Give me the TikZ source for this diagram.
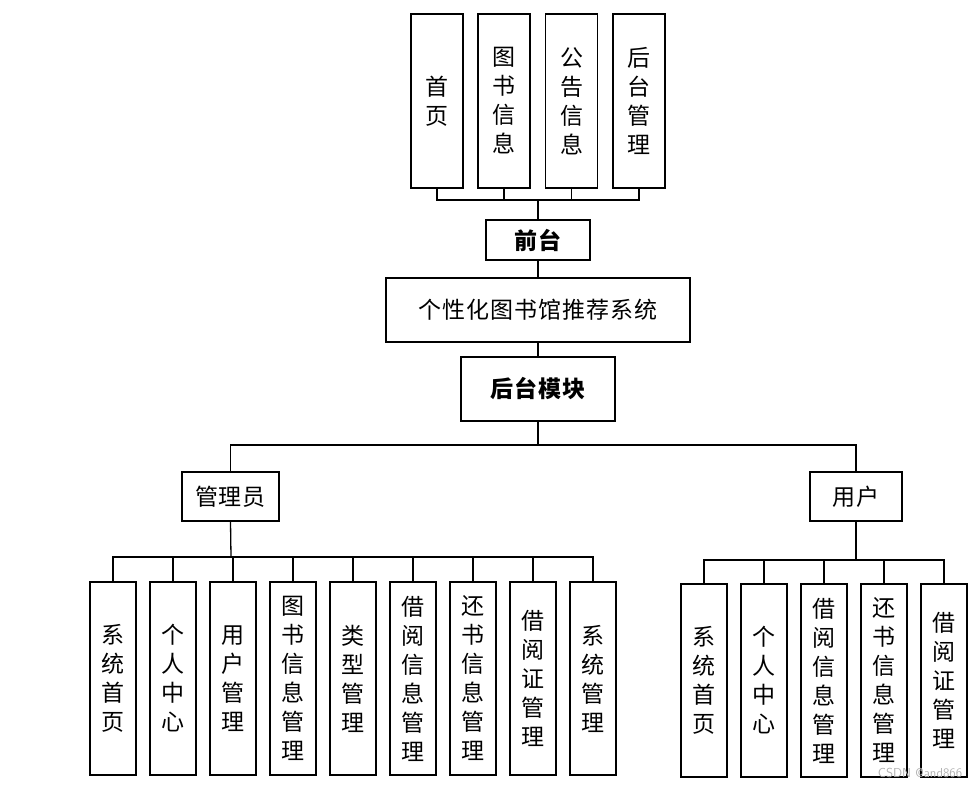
\documentclass[tikz,border=0pt]{standalone}
\usepackage{fontspec}
\newfontfamily\cjk{Noto Sans CJK SC}
\newfontfamily\cjkwide[LetterSpace=4]{Noto Sans CJK SC}
\usetikzlibrary{positioning}

\begin{document}
\begin{tikzpicture}[x=1pt,y=-1pt,node distance=12.7pt,every node/.style={draw,line width=1.3pt,inner sep=0pt,align=center,font=\cjk\fontsize{23}{29}\selectfont},wide/.style={font=\cjkwide\fontsize{23}{29}\selectfont},widebold/.style={font=\cjkwide\bfseries\fontsize{23}{29}\selectfont},topbox/.style={minimum width=52pt,minimum height=174pt},leaf/.style={minimum width=46pt,minimum height=193pt},edge/.style={line width=1.3pt}]
    \useasboundingbox (0,0) rectangle (979,788);

    % front end
    \node[topbox] (home) at (437,101) {首\\页};
    \node[topbox] (book) at (504,101) {图\\书\\信\\息};
    \node[topbox] (notice) at (571.5,101) {公\\告\\信\\息};
    \node[topbox] (admin) at (639,101) {后\\台\\管\\理};
    \node[widebold,minimum width=104pt,minimum height=40pt] (front) at (538,240) {前台};
    \node[wide,minimum width=304pt,minimum height=64pt] (sys) at (538,310) {个性化图书馆推荐系统};
    \node[widebold,minimum width=154pt,minimum height=64pt] (back) at (538,389) {后台模块};

    % roles
    \node[wide,minimum width=97pt,minimum height=49pt] (mgr) at (230.5,496.5) {管理员};
    \node[wide,minimum width=92pt,minimum height=49pt] (user) at (856,496.5) {用户};

    % admin leaves
    \node[leaf] (a1) at (113,678.5) {系\\统\\首\\页};
    \node[leaf] (a2) [right=of a1] {个\\人\\中\\心};
    \node[leaf] (a3) [right=of a2] {用\\户\\管\\理};
    \node[leaf] (a4) [right=of a3] {图\\书\\信\\息\\管\\理};
    \node[leaf] (a5) [right=of a4] {类\\型\\管\\理};
    \node[leaf] (a6) [right=of a5] {借\\阅\\信\\息\\管\\理};
    \node[leaf] (a7) [right=of a6] {还\\书\\信\\息\\管\\理};
    \node[leaf] (a8) [right=of a7] {借\\阅\\证\\管\\理};
    \node[leaf] (a9) [right=of a8] {系\\统\\管\\理};

    % user leaves
    \node[leaf] (u1) at (704,680.5) {系\\统\\首\\页};
    \node[leaf] (u2) [right=of u1] {个\\人\\中\\心};
    \node[leaf] (u3) [right=of u2] {借\\阅\\信\\息\\管\\理};
    \node[leaf] (u4) [right=of u3] {还\\书\\信\\息\\管\\理};
    \node[leaf] (u5) [right=of u4] {借\\阅\\证\\管\\理};

    \node[draw=none,text=black!30,font=\sffamily\fontsize{13}{14}\selectfont] (mark) at (920,773) {CSDN @and866};

    \coordinate (fbus) at (538,200);
    \coordinate (bbus) at (538,445);
    \coordinate (mbus) at (231,557);
    \coordinate (ubus) at (856,560);

    \draw[edge] (home.south) |- (fbus);
    \draw[edge] (book.south) |- (fbus);
    \draw[edge] (notice.south) |- (fbus);
    \draw[edge] (admin.south) |- (fbus);
    \draw[edge] (fbus) -- (front.north);
    \draw[edge] (front.south) -- (sys.north);
    \draw[edge] (sys.south) -- (back.north);
    \draw[edge] (back.south) -- (bbus);
    \draw[edge] (bbus) -| (mgr.north);
    \draw[edge] (bbus) -| (user.north);

    \draw[edge] (mgr.south) -- (mbus);
    \draw[edge] (mbus) -| (a1.north);
    \draw[edge] (mbus) -| (a2.north);
    \draw[edge] (mbus) -| (a3.north);
    \draw[edge] (mbus) -| (a4.north);
    \draw[edge] (mbus) -| (a5.north);
    \draw[edge] (mbus) -| (a6.north);
    \draw[edge] (mbus) -| (a7.north);
    \draw[edge] (mbus) -| (a8.north);
    \draw[edge] (mbus) -| (a9.north);

    \draw[edge] (user.south) -- (ubus);
    \draw[edge] (ubus) -| (u1.north);
    \draw[edge] (ubus) -| (u2.north);
    \draw[edge] (ubus) -| (u3.north);
    \draw[edge] (ubus) -| (u4.north);
    \draw[edge] (ubus) -| (u5.north);
\end{tikzpicture}
\end{document}
